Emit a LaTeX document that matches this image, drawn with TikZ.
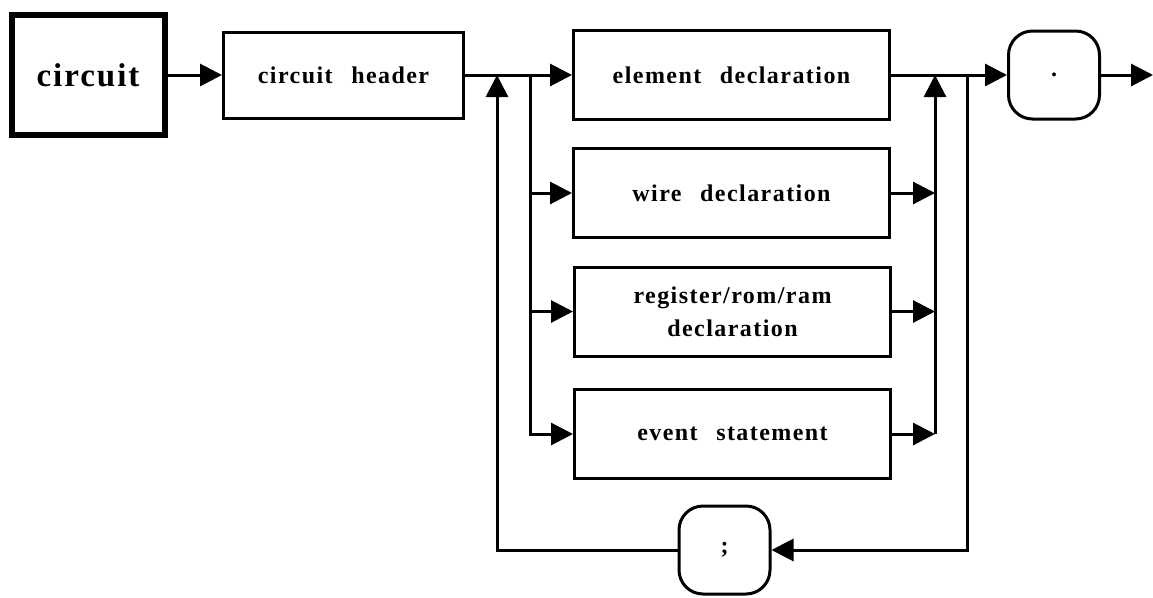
\documentclass[tikz,border=0pt]{standalone}
\usepackage{fontspec}
\setmainfont{Liberation Serif}[LetterSpace=6,WordSpace=2.5]
\usetikzlibrary{arrows.meta}

\begin{document}
\begin{tikzpicture}[x=1pt,y=-1pt,>={Triangle[length=22pt,width=22pt]},line width=3pt,
  synbox/.style={draw,line width=3pt,minimum width=316pt,minimum height=89pt,inner sep=0pt,
    align=center,font=\fontsize{24}{33}\selectfont\bfseries},
  termbox/.style={draw,line width=3pt,rounded corners=24pt,minimum width=91pt,minimum height=88pt,
    inner sep=0pt,font=\fontsize{24}{28}\selectfont\bfseries}]
  \useasboundingbox (0,0) rectangle (1153,597);
  % main row
  \node[draw,line width=6pt,minimum width=153pt,minimum height=120pt,inner sep=0pt,
    font=\fontsize{33}{36}\selectfont\bfseries] (circ) at (88,75) {circuit};
  \node[synbox,minimum width=240pt,minimum height=86pt,font=\fontsize{24}{28}\selectfont\bfseries] (head) at (343.5,75) {circuit header};
  \node[synbox] (elem) at (731.5,75) {element declaration};
  \node[synbox] (wire) at (731.5,193) {wire declaration};
  \node[synbox] (reg) at (732.5,311.5) {register/rom/ram\\declaration};
  \node[synbox] (event) at (732.5,434) {event statement};
  \node[termbox] (dot) at (1054,75) {.};
  \node[termbox] (semi) at (724.5,550) {;};
  % junctions on the main line
  \coordinate (j1) at (497,75);
  \coordinate (j2) at (530,75);
  \coordinate (j3) at (935,75);
  \coordinate (j4) at (967,75);
  \coordinate (out) at (1153,75);
  \draw[->] (circ) -- (head);
  \draw[->] (head) -- (elem);
  \draw[->] (elem) -- (dot);
  \draw[->] (dot) -- (out);
  % alternatives
  \draw[->] (j2) |- (wire);
  \draw[->] (j2) |- (reg);
  \draw[->] (j2) |- (event);
  \draw[->] (wire) -- (wire -| j3);
  \draw[->] (reg) -- (reg -| j3);
  \draw[->] (event) -- (event -| j3);
  \draw[->] (event -| j3) -- (j3);
  % repetition with ;
  \draw[->] (j4) |- (semi);
  \draw[->] (semi) -| (j1);
\end{tikzpicture}
\end{document}
